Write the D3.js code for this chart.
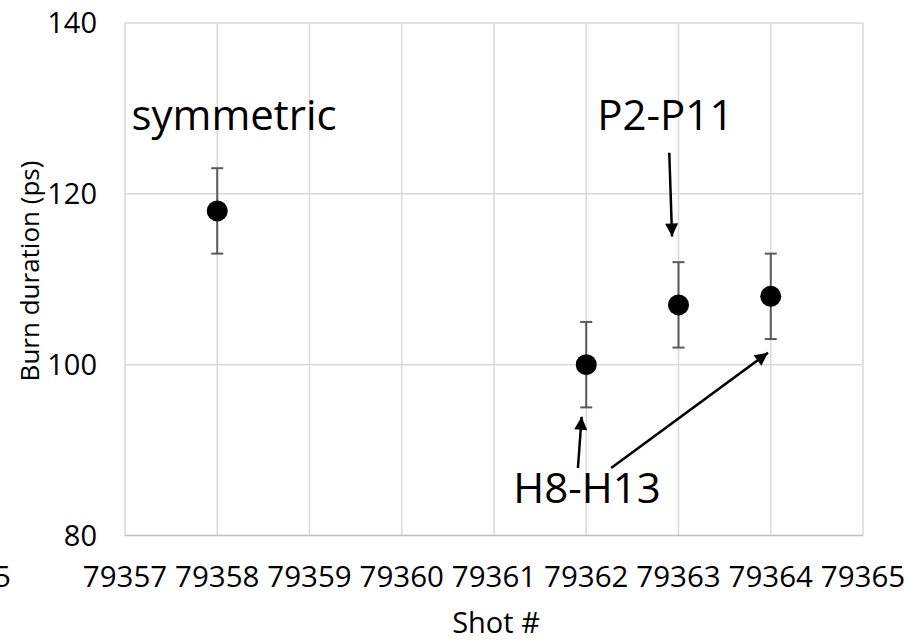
<!DOCTYPE html>
<html>
<head>
<meta charset="utf-8">
<script src="https://cdn.jsdelivr.net/npm/d3@7"></script>
<style>
  body { margin: 0; background: #fff; }
  svg { display: block; font-family: "Open Sans", sans-serif; }
</style>
</head>
<body>
<div id="chart"></div>
<script>
// DATA
var shots = [79358, 79362, 79363, 79364];
var burn = [118, 100, 107, 108];
var errLow = [5, 5, 5, 5];
var errHigh = [5, 5, 5, 5];
var xTicks = [79356, 79357, 79358, 79359, 79360, 79361, 79362, 79363, 79364, 79365];
var xTickLabels = ["79355", "79357", "79358", "79359", "79360", "79361", "79362", "79363", "79364", "79365"];
var yTicks = [80, 100, 120, 140];
var notes = [
  {text: "symmetric", x: 79357.07, y: 127.5},
  {text: "P2-P11", x: 79362.12, y: 127.5},
  {text: "H8-H13", x: 79361.21, y: 83.8}
];
var arrows = [
  {x1: 79362.90, y1: 124.8, x2: 79362.93, y2: 115.0},
  {x1: 79361.91, y1: 87.9, x2: 79361.95, y2: 93.9},
  {x1: 79362.27, y1: 87.9, x2: 79363.97, y2: 101.4}
];

// SIZES
var W = 907, H = 643;
var plot = {left: 125, right: 863, top: 23, bottom: 535.5};

var svg = d3.select("#chart").append("svg")
    .attr("width", W).attr("height", H);

var x = d3.scaleLinear().domain([79357, 79365]).range([plot.left, plot.right]);
var y = d3.scaleLinear().domain([80, 140]).range([plot.bottom, plot.top]);

var defs = svg.append("defs");
defs.append("marker")
    .attr("id", "head")
    .attr("viewBox", "0 0 10 10")
    .attr("refX", 10).attr("refY", 5)
    .attr("markerUnits", "userSpaceOnUse")
    .attr("markerWidth", 15).attr("markerHeight", 13)
    .attr("orient", "auto")
  .append("path")
    .attr("d", "M0,0 L10,5 L0,10 Z")
    .attr("fill", "#000");

// grid
var grid = svg.append("g");
grid.selectAll(".vg").data(xTicks.filter(function(d) { return d > 79357; }))
  .enter().append("line")
    .attr("x1", function(d) { return x(d); }).attr("x2", function(d) { return x(d); })
    .attr("y1", plot.top).attr("y2", plot.bottom)
    .attr("stroke", "#d9d9d9").attr("stroke-width", 1.5);
grid.selectAll(".hg").data(yTicks.filter(function(d) { return d > 80; }))
  .enter().append("line")
    .attr("x1", plot.left).attr("x2", plot.right)
    .attr("y1", function(d) { return y(d); }).attr("y2", function(d) { return y(d); })
    .attr("stroke", "#d9d9d9").attr("stroke-width", 1.5);

// axes lines
svg.append("line")
    .attr("x1", plot.left).attr("x2", plot.left)
    .attr("y1", plot.top).attr("y2", plot.bottom)
    .attr("stroke", "#d9d9d9").attr("stroke-width", 1.5);
svg.append("line")
    .attr("x1", plot.left).attr("x2", plot.right)
    .attr("y1", plot.bottom).attr("y2", plot.bottom)
    .attr("stroke", "#bfbfbf").attr("stroke-width", 1.5);

// tick labels
svg.append("g").selectAll("text").data(yTicks)
  .enter().append("text")
    .attr("x", 97)
    .attr("y", function(d) { return y(d) + 10; })
    .attr("text-anchor", "end")
    .attr("font-size", 29)
    .attr("fill", "#000")
    .text(function(d) { return d; });

// the first label is pushed off the left edge, as in the original
svg.append("g").selectAll("text").data(d3.range(xTicks.length))
  .enter().append("text")
    .attr("x", function(i) { return i === 0 ? x(xTicks[i]) - 64 : x(xTicks[i]); })
    .attr("y", 587)
    .attr("text-anchor", "middle")
    .attr("font-size", 29.5)
    .attr("fill", "#000")
    .text(function(i) { return xTickLabels[i]; });

// axis titles
svg.append("text")
    .attr("x", 496).attr("y", 633)
    .attr("text-anchor", "middle")
    .attr("font-size", 29)
    .text("Shot #");
svg.append("text")
    .attr("transform", "translate(39," + 271 + ")rotate(-90)")
    .attr("text-anchor", "middle")
    .attr("font-size", 26)
    .text("Burn duration (ps)");

// error bars
var idx = d3.range(shots.length);
var eb = svg.append("g").attr("stroke", "#595959").attr("stroke-width", 2);
eb.selectAll(".bar").data(idx).enter().append("line")
    .attr("x1", function(i) { return x(shots[i]); })
    .attr("x2", function(i) { return x(shots[i]); })
    .attr("y1", function(i) { return y(burn[i] - errLow[i]); })
    .attr("y2", function(i) { return y(burn[i] + errHigh[i]); });
eb.selectAll(".capT").data(idx).enter().append("line")
    .attr("x1", function(i) { return x(shots[i]) - 6; })
    .attr("x2", function(i) { return x(shots[i]) + 6; })
    .attr("y1", function(i) { return y(burn[i] + errHigh[i]); })
    .attr("y2", function(i) { return y(burn[i] + errHigh[i]); });
eb.selectAll(".capB").data(idx).enter().append("line")
    .attr("x1", function(i) { return x(shots[i]) - 6; })
    .attr("x2", function(i) { return x(shots[i]) + 6; })
    .attr("y1", function(i) { return y(burn[i] - errLow[i]); })
    .attr("y2", function(i) { return y(burn[i] - errLow[i]); });

// points
svg.append("g").selectAll("circle").data(idx)
  .enter().append("circle")
    .attr("cx", function(i) { return x(shots[i]); })
    .attr("cy", function(i) { return y(burn[i]); })
    .attr("r", 10.5)
    .attr("fill", "#000");

// annotations
svg.append("g").selectAll("text").data(notes)
  .enter().append("text")
    .attr("x", function(d) { return x(d.x); })
    .attr("y", function(d) { return y(d.y); })
    .attr("font-size", 42)
    .attr("fill", "#000")
    .text(function(d) { return d.text; });

svg.append("g").selectAll("line").data(arrows)
  .enter().append("line")
    .attr("x1", function(d) { return x(d.x1); })
    .attr("y1", function(d) { return y(d.y1); })
    .attr("x2", function(d) { return x(d.x2); })
    .attr("y2", function(d) { return y(d.y2); })
    .attr("stroke", "#000").attr("stroke-width", 2.5)
    .attr("marker-end", "url(#head)");
</script>
</body>
</html>
